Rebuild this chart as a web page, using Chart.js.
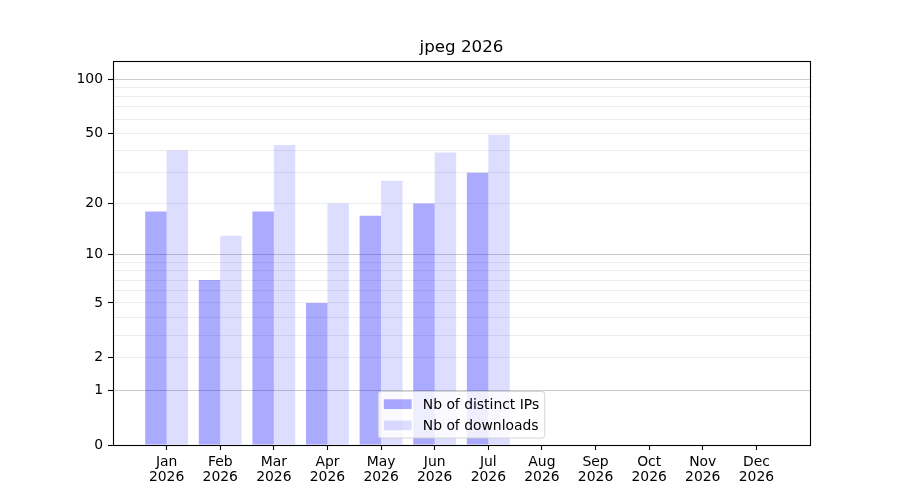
<!DOCTYPE html>
<html><head><meta charset="utf-8">
<script src="https://cdn.jsdelivr.net/npm/chart.js@4.4.1/dist/chart.umd.min.js"></script>
<style>html,body{margin:0;padding:0;background:#fff}#wrap{width:900px;height:500px;position:relative}</style>
</head><body><div id="wrap"><canvas id="c"></canvas></div>
<script>
const months = ['Jan','Feb','Mar','Apr','May','Jun','Jul','Aug','Sep','Oct','Nov','Dec'];
const year = '2026';
const chartTitle = 'jpeg 2026';
const seriesLabels = ['Nb of distinct IPs', 'Nb of downloads'];
const ipsValues = [18, 7, 18, 5, 17, 20, 30];
const downloadsValues = [40, 13, 43, 20, 27, 39, 49];
const yTickLabels = [0, 1, 2, 5, 10, 20, 50, 100];
const yMajorGrid = [1, 10, 100];
const yMinorGrid = [2, 3, 4, 5, 6, 7, 8, 9, 20, 30, 40, 50, 60, 70, 80, 90];
const yMaxValue = 126.3;

const tf = v => Math.log10(1 + v);
const inv = t => Math.round(Math.pow(10, t) - 1);
const gridValues = [0].concat(yMajorGrid, yMinorGrid).sort((a, b) => a - b);

Chart.defaults.font.family = '"DejaVu Sans", sans-serif';
Chart.defaults.color = '#000';

const FS = 13.9;

const mplFrame = {
  id: 'mplFrame',
  afterDatasetsDraw(chart) {
    const ctx = chart.ctx, a = chart.chartArea;
    ctx.save();
    // title
    ctx.font = '16.7px "DejaVu Sans"';
    ctx.fillStyle = '#000';
    ctx.textAlign = 'center';
    ctx.textBaseline = 'alphabetic';
    ctx.fillText(chartTitle, (a.left + a.right) / 2, a.top - 8.3);
    // axes frame
    ctx.strokeStyle = '#000';
    ctx.lineWidth = 1.1;
    const L = Math.round(a.left) + 0.5, R = Math.round(a.right) + 0.5;
    const T = Math.round(a.top) + 0.5, B = Math.round(a.bottom) + 0.5;
    ctx.strokeRect(L, T, R - L, B - T);
    // legend
    ctx.font = FS + 'px "DejaVu Sans"';
    const pad = 0.4 * FS, hLen = 2.0 * FS, hPad = 0.8 * FS, spacing = 0.5 * FS, rowH = 14.25;
    const maxW = Math.max(...seriesLabels.map(s => ctx.measureText(s).width));
    const boxW = 2 * pad + hLen + hPad + maxW;
    const boxH = 2 * pad + seriesLabels.length * rowH + (seriesLabels.length - 1) * spacing;
    const cx = (a.left + a.right) / 2;
    const x0 = cx - boxW / 2;
    const y1 = a.bottom - 0.5 * FS;
    const y0 = y1 - boxH;
    const r = 0.2 * FS;
    ctx.beginPath();
    ctx.moveTo(x0 + r, y0);
    ctx.lineTo(x0 + boxW - r, y0);
    ctx.arcTo(x0 + boxW, y0, x0 + boxW, y0 + r, r);
    ctx.lineTo(x0 + boxW, y1 - r);
    ctx.arcTo(x0 + boxW, y1, x0 + boxW - r, y1, r);
    ctx.lineTo(x0 + r, y1);
    ctx.arcTo(x0, y1, x0, y1 - r, r);
    ctx.lineTo(x0, y0 + r);
    ctx.arcTo(x0, y0, x0 + r, y0, r);
    ctx.closePath();
    ctx.fillStyle = 'rgba(255,255,255,0.8)';
    ctx.fill();
    ctx.strokeStyle = 'rgba(204,204,204,0.8)';
    ctx.lineWidth = 1;
    ctx.stroke();
    chart.data.datasets.forEach((ds, i) => {
      const rc = y0 + pad + rowH / 2 + i * (rowH + spacing);
      ctx.fillStyle = ds.backgroundColor;
      ctx.fillRect(x0 + pad, rc - 0.35 * FS, hLen, 0.7 * FS);
      ctx.fillStyle = '#000';
      ctx.textAlign = 'left';
      ctx.textBaseline = 'alphabetic';
      ctx.fillText(ds.label, x0 + pad + hLen + hPad, rc + 4.7);
    });
    ctx.restore();
  }
};

const chart = new Chart(document.getElementById('c'), {
  type: 'bar',
  data: {
    datasets: [
      {
        label: seriesLabels[0],
        data: ipsValues.map((v, i) => ({ x: i, y: tf(v) })),
        backgroundColor: 'rgba(0,0,255,0.333)',
        borderWidth: 0
      },
      {
        label: seriesLabels[1],
        data: downloadsValues.map((v, i) => ({ x: i, y: tf(v) })),
        backgroundColor: 'rgba(0,0,255,0.133)',
        borderWidth: 0
      }
    ]
  },
  options: {
    responsive: true,
    maintainAspectRatio: false,
    animation: false,
    categoryPercentage: 0.8,
    barPercentage: 1.0,
    layout: { padding: { left: 0, right: 90, top: 60.7, bottom: 0 } },
    plugins: {
      legend: { display: false },
      tooltip: { enabled: false },
      title: { display: false }
    },
    scales: {
      x: {
        type: 'linear',
        min: -1,
        max: 12,
        offset: false,
        afterBuildTicks: s => { s.ticks = months.map((m, i) => ({ value: i })); },
        afterFit: s => { s.height = 55; },
        border: { display: false },
        grid: { offset: false, drawOnChartArea: false, drawTicks: true, tickLength: 5, tickColor: '#000', tickWidth: 1.1 },
        ticks: {
          autoSkip: false,
          maxRotation: 0,
          padding: 5,
          font: { size: FS, lineHeight: 1.08 },
          callback: (v) => [months[Math.round(v)], year]
        }
      },
      y: {
        type: 'linear',
        min: 0,
        max: tf(yMaxValue),
        afterBuildTicks: s => { s.ticks = gridValues.map(v => ({ value: tf(v) })); },
        afterFit: s => { s.width = 113; },
        border: { display: false },
        grid: {
          drawTicks: true,
          tickLength: 5,
          tickWidth: 1.1,
          lineWidth: 1,
          color: ctx => {
            const v = ctx.tick ? inv(ctx.tick.value) : 0;
            if (v === 0) return 'rgba(0,0,0,0)';
            return yMajorGrid.includes(v) ? 'rgba(0,0,0,0.2)' : 'rgba(0,0,0,0.075)';
          },
          tickColor: ctx => {
            const v = ctx.tick ? inv(ctx.tick.value) : -1;
            return yTickLabels.includes(v) ? '#000' : 'rgba(0,0,0,0)';
          }
        },
        ticks: {
          autoSkip: false,
          padding: 5,
          font: { size: FS },
          callback: (v) => { const n = inv(v); return yTickLabels.includes(n) ? String(n) : ''; }
        }
      }
    }
  },
  plugins: [mplFrame]
});
</script>
</body></html>
